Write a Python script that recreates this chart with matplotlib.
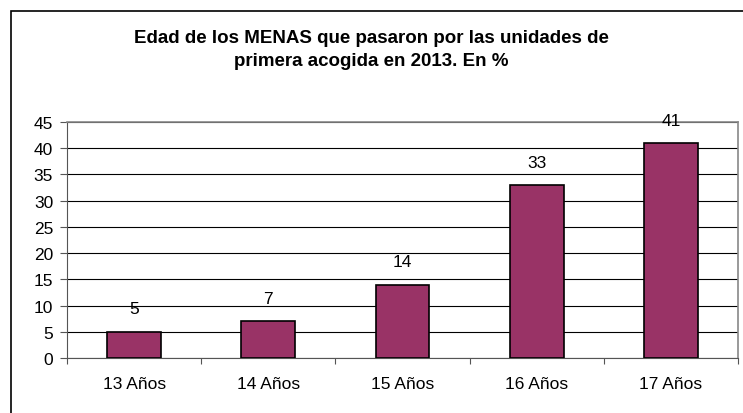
import matplotlib
matplotlib.use("Agg")
import matplotlib.pyplot as plt
from matplotlib.patches import Rectangle

categories = ["13 Años", "14 Años", "15 Años", "16 Años", "17 Años"]
values = [5, 7, 14, 33, 41]
title = "Edad de los MENAS que pasaron por las unidades de\nprimera acogida en 2013. En %"

plt.rcParams['font.family'] = ['Liberation Sans', 'DejaVu Sans']

W, H = 743, 414
fig = plt.figure(figsize=(W/100, H/100), dpi=100)
fig.patch.set_facecolor('white')

# outer chart frame
fig.patches.append(Rectangle((11/W, -0.1), 1.1, 1 - 12/H + 0.1, transform=fig.transFigure,
                             fill=False, edgecolor='black', linewidth=1.2, clip_on=False))

ax = fig.add_axes([67/W, 1 - 359/H, (738 - 67)/W, (359 - 123)/H])
x = list(range(len(categories)))
ax.bar(x, values, width=0.4, color='#993366', edgecolor='black', linewidth=1.2, zorder=3)
ax.set_xlim(-0.5, len(categories) - 0.5)
ax.set_ylim(0, 45)
ax.set_yticks(range(0, 46, 5))
ax.set_xticks(x)
ax.set_xticklabels(categories, fontsize=12.5)
ax.tick_params(axis='y', labelsize=12.5, length=5, width=0.8, color='#555555', pad=5)
ax.tick_params(axis='x', length=0, pad=13)
# minor ticks between categories
ax.set_xticks([i + 0.5 for i in range(-1, len(categories))], minor=True)
ax.tick_params(axis='x', which='minor', length=4, width=0.8, color='#555555', direction='out')
ax.grid(axis='y', color='black', linewidth=0.8, zorder=0)
for s in ['top', 'right']:
    ax.spines[s].set_color('#888888')
    ax.spines[s].set_linewidth(1.2)
ax.spines['left'].set_color('#555555')
ax.spines['bottom'].set_color('#555555')
ax.spines['left'].set_linewidth(0.8)
ax.spines['bottom'].set_linewidth(0.8)

for xi, v in zip(x, values):
    ax.annotate(str(v), (xi, v), xytext=(0, 11), textcoords='offset points',
                ha='center', va='bottom', fontsize=12.5, zorder=4)

fig.text(0.5, 1 - 50/H, title, ha='center', va='center', fontsize=13.5, fontweight='bold',
         linespacing=1.5)

fig.savefig("out.png", dpi=100)
